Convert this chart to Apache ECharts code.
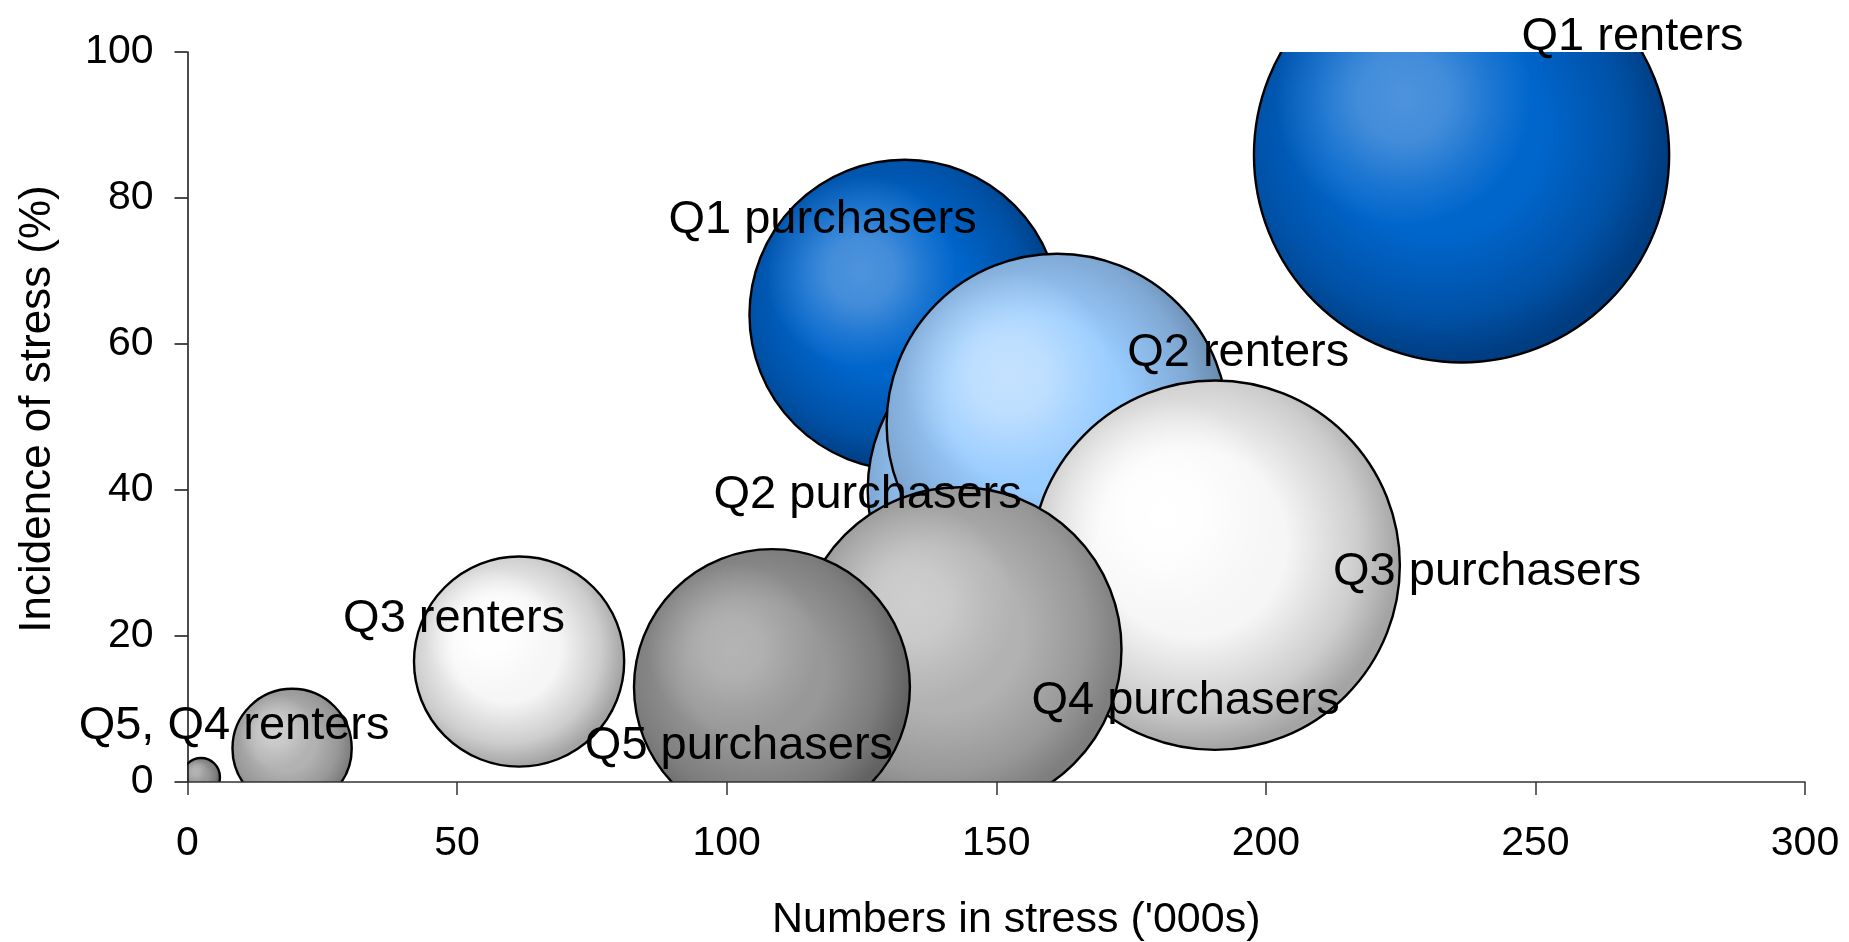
<!DOCTYPE html>
<html>
<head>
<meta charset="utf-8">
<script src="https://cdn.jsdelivr.net/npm/echarts@6/dist/echarts.min.js"></script>
<style>
html,body{margin:0;padding:0;background:#fff;}
#chart{width:1849px;height:942px;}
</style>
</head>
<body>
<div id="chart"></div>
<script>
// ---- data (draw order: later items on top) ----
const names = ['Q1 renters','Q1 purchasers','Q2 purchasers','Q2 renters','Q3 purchasers','Q3 renters','Q4 purchasers','Q4 renters','Q5 purchasers','Q5 renters'];
const groups = ['Q1','Q1','Q2','Q2','Q3','Q3','Q4','Q4','Q5','Q5'];
const xValues = [236.3, 133.0, 157.3, 161.3, 190.6, 61.5, 143.2, 19.4, 108.4, 2.5];
const yValues = [85.9, 64.0, 40.0, 49.0, 29.7, 16.5, 18.2, 4.6, 13.0, 0.7];
const sizes   = [240, 134, 157, 162, 190, 61.5, 146, 19.8, 106, 2];
const labelTexts = ['Q1 renters','Q1 purchasers','Q2 purchasers','Q2 renters','Q3 purchasers','Q3 renters','Q4 purchasers','Q5, Q4 renters','Q5 purchasers',''];
const xAxisRange = {min: 0, max: 300, interval: 50};
const yAxisRange = {min: 0, max: 100, interval: 20};
const xTitle = "Numbers in stress ('000s)";
const yTitle = 'Incidence of stress (%)';

// ---- styling ----
const FONT = "'Liberation Sans', Arial, sans-serif";
const SIZE_SCALE = 26.8; // bubble diameter px per sqrt(size)
const palettes = {
  Q1: {hi: '#4e93dc', mid: '#0066cc', edge: '#003c80'},
  Q2: {hi: '#c4e2ff', mid: '#99ccff', edge: '#6686a8'},
  Q3: {hi: '#ffffff', mid: '#f6f6f6', edge: '#a4a4a4'},
  Q4: {hi: '#cecece', mid: '#b2b2b2', edge: '#7e7e7e'},
  Q5: {hi: '#b4b4b4', mid: '#989898', edge: '#626262'}
};
const labelOffsets = [[171,-118],[-82,-95],[-168,5],[181,-71],[272,7],[-65,-43],[226,52],[-58,-22],[-33,59],[0,0]];

function hexA(hex, a) {
  const n = parseInt(hex.slice(1), 16);
  return 'rgba(' + ((n >> 16) & 255) + ',' + ((n >> 8) & 255) + ',' + (n & 255) + ',' + a + ')';
}

const bubbleData = names.map((n, i) => ({name: n, value: [xValues[i], yValues[i], sizes[i]]}));
const labelData = names.map((n, i) => ({
  name: n,
  value: [xValues[i], yValues[i]],
  label: {show: labelTexts[i] !== '', formatter: labelTexts[i], offset: labelOffsets[i]}
}));

const chart = echarts.init(document.getElementById('chart'), null, {renderer: 'canvas'});
chart.setOption({
  backgroundColor: '#ffffff',
  animation: false,
  grid: {left: 187.5, right: 44, top: 52, bottom: 160, containLabel: false, outerBoundsMode: 'none'},
  xAxis: {
    type: 'value', min: xAxisRange.min, max: xAxisRange.max, interval: xAxisRange.interval, z: 3,
    name: xTitle, nameLocation: 'middle', nameGap: 117,
    nameTextStyle: {fontFamily: FONT, fontSize: 43, color: '#000', padding: [0, 0, 0, 40]},
    axisLine: {show: true, onZero: false, lineStyle: {color: '#333', width: 1.5}},
    axisTick: {show: true, inside: false, length: 13, lineStyle: {color: '#333', width: 1.5}},
    axisLabel: {fontFamily: FONT, fontSize: 41, color: '#000', margin: 41},
    splitLine: {show: false}
  },
  yAxis: {
    type: 'value', min: yAxisRange.min, max: yAxisRange.max, interval: yAxisRange.interval, z: 3,
    name: yTitle, nameLocation: 'middle', nameGap: 128, nameRotate: 90,
    nameTextStyle: {fontFamily: FONT, fontSize: 44, color: '#000', padding: [0, 0, 0, 16]},
    axisLine: {show: true, onZero: false, lineStyle: {color: '#111', width: 1.5}},
    axisTick: {show: true, inside: false, length: 13, lineStyle: {color: '#111', width: 1.5}},
    axisLabel: {fontFamily: FONT, fontSize: 41, color: '#000', margin: 34},
    splitLine: {show: false}
  },
  series: [
    {
      type: 'custom',
      name: 'bubbles',
      z: 2,
      clip: true,
      data: bubbleData,
      encode: {x: 0, y: 1},
      renderItem: function (params, api) {
        const c = api.coord([api.value(0), api.value(1)]);
        const r = SIZE_SCALE * Math.sqrt(api.value(2)) / 2;
        const pal = palettes[groups[params.dataIndex]];
        const G = echarts.graphic;
        return {
          type: 'group',
          children: [
            {
              type: 'circle',
              shape: {cx: c[0], cy: c[1], r: r},
              style: {
                fill: new G.RadialGradient(0.44, 0.44, 0.56, [
                  {offset: 0, color: pal.mid},
                  {offset: 0.45, color: pal.mid},
                  {offset: 0.8, color: echarts.color.lerp(0.5, [pal.mid, pal.edge])},
                  {offset: 1, color: pal.edge}
                ])
              }
            },
            {
              type: 'circle',
              shape: {cx: c[0] - 0.28 * r, cy: c[1] - 0.28 * r, r: 0.62 * r},
              style: {
                fill: new G.RadialGradient(0.5, 0.5, 0.5, [
                  {offset: 0, color: hexA(pal.hi, 1)},
                  {offset: 0.35, color: hexA(pal.hi, 0.85)},
                  {offset: 0.7, color: hexA(pal.hi, 0.35)},
                  {offset: 1, color: hexA(pal.hi, 0)}
                ])
              }
            },
            {
              type: 'circle',
              shape: {cx: c[0], cy: c[1], r: r},
              style: {fill: 'none', stroke: '#000', lineWidth: 2.4}
            }
          ]
        };
      }
    },
    {
      type: 'scatter',
      name: 'labels',
      z: 6,
      clip: false,
      symbolSize: 1,
      itemStyle: {color: 'rgba(0,0,0,0)'},
      silent: true,
      data: labelData,
      label: {
        show: true, position: 'inside',
        fontFamily: FONT, fontSize: 47, color: '#000',
        textBorderWidth: 0, textBorderColor: 'transparent', opacity: 1
      }
    }
  ]
});
</script>
</body>
</html>
